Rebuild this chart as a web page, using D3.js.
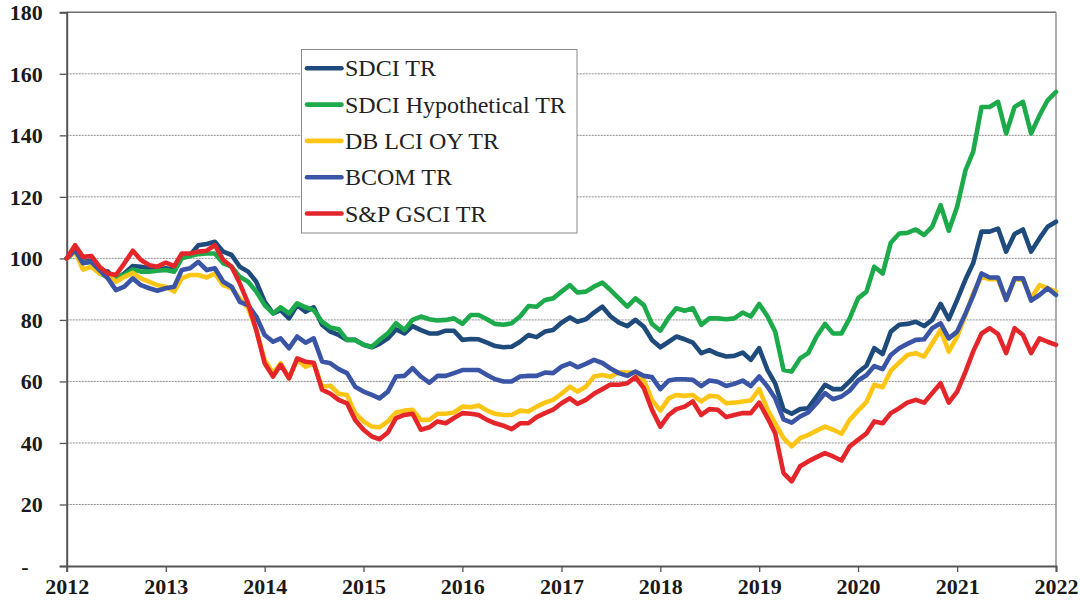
<!DOCTYPE html>
<html><head><meta charset="utf-8">
<script src="https://cdn.jsdelivr.net/npm/d3@7"></script>
<style>
html,body{margin:0;padding:0;background:#fff;}
svg{display:block;}
</style></head>
<body><svg id="chart" width="1080" height="608"></svg>
<script>
// Monthly observations Jan 2012 .. Jan 2022
const startMonth = new Date(2012, 0, 1);
const endMonth = new Date(2022, 0, 1);
const months = d3.timeMonth.range(startMonth, d3.timeMonth.offset(endMonth, 1));

const yearTicks = [2012,2013,2014,2015,2016,2017,2018,2019,2020,2021,2022];
const valueTicks = [0,20,40,60,80,100,120,140,160,180];

const seriesNames = ["SDCI TR","SDCI Hypothetical TR","DB LCI OY TR","BCOM TR","S&P GSCI TR"];
const seriesColors = ["#1F4A7C","#1DAA4A","#FFC515","#3A55A6","#E4262B"];

const sdciTR = [100,102.2,98.9,99.2,96.2,95.7,93.2,95.1,97.5,97.3,96.8,96.4,96.8,96.2,100.5,101.1,104.3,104.7,105.4,102.2,101.1,97.3,95.7,92.4,85.9,82.1,83.2,80.5,84.8,82.7,84.1,78.4,76.2,75.1,
 73.5,73.5,71.9,71.1,72.2,74.0,76.9,75.6,78.0,76.7,75.6,75.6,76.5,76.5,73.5,73.8,73.7,72.6,71.5,71.1,71.3,72.9,75.1,74.4,76.2,76.7,79.1,80.8,79.4,80.2,82.4,84.3,81.2,
 79.1,78.0,80.0,77.8,73.5,71.1,72.9,74.6,73.7,72.6,69.2,70.2,68.9,68.1,68.3,69.4,67.0,70.8,63.7,59.4,50.8,49.5,51.0,51.3,55.1,58.9,57.5,57.5,60.0,63.0,65.1,
 70.8,68.9,76.2,78.4,78.7,79.4,78.0,80.0,85.2,80.2,86.5,93.2,98.4,108.7,108.7,109.7,102.2,107.9,109.4,102.2,106.5,110.3,111.9];

const sdciHypTR = [100,102.2,98.6,98.9,95.1,94.0,94.0,94.6,96.4,95.7,95.7,96.0,96.2,95.7,100,100.8,101.4,101.6,101.6,98.4,97.3,94.0,92.4,89.2,84.8,82.1,84.1,82.1,85.4,84.1,83.2,79.4,77.5,77.0,
 73.5,73.5,71.9,71.3,73.5,75.6,78.9,76.7,80.0,81.1,80.2,79.8,80.0,80.5,78.7,81.6,81.6,80.2,78.7,78.4,78.9,81.1,84.5,84.3,86.5,87.0,89.2,91.3,88.9,89.2,90.8,92.1,89.7,
 87.0,84.3,87.0,84.8,78.7,76.5,80.8,83.8,83.0,83.8,78.4,80.5,80.5,80.2,80.5,82.4,81.1,85.2,81.1,76.2,63.7,63.2,67.5,69.2,74.6,78.7,75.6,75.6,80.5,87.0,89.2,
 97.3,95.1,105.1,108.1,108.3,109.4,107.6,110.3,117.3,109.0,116.8,128.7,134.6,149.2,149.2,150.9,140.6,149.2,150.9,140.6,146.5,151.4,154.1];

const dbLciTR = [100,102.2,96.4,97.3,95.1,94.6,92.4,94.0,95.3,93.5,92.4,91.3,90.8,89.2,93.5,94.6,94.6,93.8,95.1,91.3,90.3,87.0,83.8,76.7,67.0,62.7,65.9,61.0,67.0,64.8,65.9,58.3,58.6,56.0,
 55.6,49.7,47.0,45.3,45.1,47.0,49.9,50.5,50.8,47.5,47.5,49.5,49.5,49.9,51.8,51.6,52.2,50.5,49.5,49.1,49.1,50.5,50.2,51.8,53.1,54.0,56.0,58.3,56.7,58.3,61.6,62.1,61.5,
 63.0,62.9,62.9,60.5,54.0,50.5,54.5,55.6,55.3,55.6,53.5,55.3,55.1,52.9,53.1,53.5,53.8,57.5,50.8,46.4,41.6,38.9,41.6,42.6,44.0,45.3,44.3,43.0,47.5,50.5,53.3,
 58.9,58.1,63.5,66.1,68.6,69.2,68.1,72.4,76.7,69.7,74.6,81.6,88.6,94.0,93.2,93.2,86.5,93.2,93.0,87.0,91.3,90.3,89.2];

const bcomTR = [100,102.7,98.4,98.9,96.2,93.5,89.7,90.8,93.5,91.3,90.3,89.5,90.3,90.8,96.2,96.8,98.9,96.2,96.8,92.4,90.8,85.9,84.8,81.1,75.1,72.9,74.0,70.8,74.6,72.6,74.0,66.5,65.9,64.0,
 62.7,58.3,56.7,55.6,54.5,56.7,61.6,61.8,64.3,61.6,59.6,61.8,61.8,62.7,63.7,63.7,63.7,62.1,60.7,60.0,60.0,61.6,61.8,61.8,62.9,62.7,64.8,65.9,64.6,65.7,67.0,66.0,64.2,
 62.7,61.8,63.2,61.8,61.4,57.5,60.3,60.7,60.7,60.5,58.5,60.3,59.9,58.5,59.2,60.3,58.5,61.6,58.3,54.5,47.7,46.6,48.6,49.9,52.9,56.2,54.2,55.1,57.0,60.3,62.0,
 65.0,64.0,68.6,70.8,72.2,73.5,73.7,77.3,78.9,74.0,76.2,82.1,87.8,95.1,93.8,93.8,86.5,93.5,93.5,86.3,88.1,90.3,88.1];

const spgsciTR = [100,104.3,100.5,100.8,97.3,95.1,94.6,98.4,102.5,99.5,97.8,97.3,98.6,97.5,101.6,101.6,102.2,102.5,104.3,99.5,97.3,91.9,85.4,76.7,65.9,61.6,65.4,61.0,67.5,66.4,66.1,57.3,56.0,54.0,
 52.9,47.5,44.3,42.1,41.2,43.4,48.1,49.1,49.5,44.3,45.1,47.0,46.4,48.1,49.7,49.5,49.1,47.5,46.4,45.6,44.5,46.4,46.4,48.4,49.7,50.8,52.9,54.5,52.7,54.0,56.0,57.5,59.0,
 58.9,59.4,61.4,57.8,50.8,45.3,49.1,51.0,51.8,53.5,49.1,51.0,50.8,48.4,49.1,49.7,49.7,53.1,48.1,43.2,30.2,27.5,32.4,34.0,35.4,36.7,35.6,34.3,38.9,41.0,43.1,
 47.0,46.4,49.7,51.3,53.1,54.0,53.1,56.2,59.4,53.1,56.7,63.2,69.7,75.6,77.3,75.4,69.2,77.3,75.1,69.2,74.0,72.9,71.9];

const seriesValues = [sdciTR, sdciHypTR, dbLciTR, bcomTR, spgsciTR];

// ---------- drawing ----------
const svg = d3.select("#chart");
const L = 66.7, R = 1056, T = 12.3, B = 566;

const x = d3.scaleTime().domain([startMonth, endMonth]).range([L, R]);
const y = d3.scaleLinear().domain([0, 180]).range([B, T]);

// gridlines
svg.append("g").selectAll("line").data(valueTicks.filter(v => v > 0)).join("line")
  .attr("x1", L).attr("x2", R)
  .attr("y1", d => y(d)).attr("y2", d => y(d))
  .attr("stroke", d => d === 180 ? "#6e6e6e" : "#8c8c8c")
  .attr("stroke-width", d => d === 180 ? 1.6 : 1)
  .attr("stroke-dasharray", d => d === 180 ? null : "2,1");

// right border
svg.append("line").attr("x1", R).attr("x2", R).attr("y1", T).attr("y2", B)
  .attr("stroke", "#9a9a9a").attr("stroke-width", 1.6);

// y axis
const yAxis = d3.axisLeft(y).tickValues(valueTicks)
  .tickFormat(d => d === 0 ? "-" : d3.format("d")(d))
  .tickSize(7).tickPadding(17);
const gy = svg.append("g").attr("transform", `translate(${L},0)`).call(yAxis);
gy.select(".domain").attr("stroke", "#555").attr("stroke-width", 2);
gy.selectAll(".tick line").attr("stroke", "#555").attr("stroke-width", 1.3);
gy.selectAll(".tick text")
  .attr("font-family", "'Liberation Serif','Times New Roman',serif")
  .attr("font-weight", "bold").attr("font-size", 22).attr("fill", "#1a1a1a")
  .attr("dy", "0.34em")
  .attr("x", d => d === 0 ? -38 : -24);

// x axis
const xAxis = d3.axisBottom(x).tickValues(yearTicks.map(yv => new Date(yv, 0, 1)))
  .tickFormat(d3.timeFormat("%Y")).tickSize(6).tickPadding(6);
const gx = svg.append("g").attr("transform", `translate(0,${B})`).call(xAxis);
gx.select(".domain").attr("stroke", "#555").attr("stroke-width", 2);
gx.selectAll(".tick line").attr("stroke", "#555").attr("stroke-width", 1.3);
gx.selectAll(".tick text")
  .attr("font-family", "'Liberation Serif','Times New Roman',serif")
  .attr("font-weight", "bold").attr("font-size", 22).attr("fill", "#1a1a1a");

// lines
const line = d3.line().x((d, i) => x(months[i])).y(d => y(d)).curve(d3.curveLinear);
svg.append("g").selectAll("path").data(seriesValues).join("path")
  .attr("d", d => line(d))
  .attr("fill", "none")
  .attr("stroke", (d, i) => seriesColors[i])
  .attr("stroke-width", 4.6)
  .attr("stroke-linejoin", "round")
  .attr("stroke-linecap", "round");

// legend
const lg = svg.append("g");
lg.append("rect").attr("x", 301.5).attr("y", 49.5).attr("width", 275.5).attr("height", 183.5)
  .attr("fill", "#fff").attr("stroke", "#8a8a8a").attr("stroke-width", 1);
const rows = lg.selectAll("g.row").data(seriesNames).join("g").attr("class", "row")
  .attr("transform", (d, i) => `translate(0,${68.3 + i * 36.3})`);
rows.append("line").attr("x1", 307).attr("x2", 341.5).attr("y1", 0).attr("y2", 0)
  .attr("stroke", (d, i) => seriesColors[i]).attr("stroke-width", 4.6).attr("stroke-linecap", "round");
rows.append("text").attr("x", 345).attr("y", 0).attr("dy", "0.34em")
  .attr("font-family", "'Liberation Serif','Times New Roman',serif")
  .attr("font-size", 24).attr("fill", "#222")
  .text(d => d);
</script>
</body></html>
